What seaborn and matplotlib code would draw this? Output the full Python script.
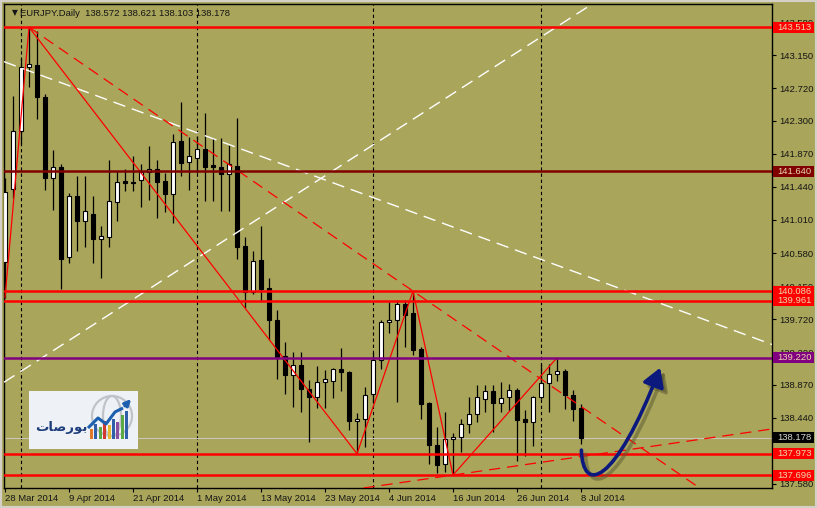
import numpy as np
import pandas as pd
import matplotlib
matplotlib.use("Agg")
import matplotlib.pyplot as plt
import matplotlib.transforms as mtransforms
from matplotlib.patches import Rectangle, Ellipse, FancyArrowPatch
from matplotlib.path import Path
import seaborn as sns

# EURJPY daily candles, 28 Mar 2014 .. 8 Jul 2014 (one bar per weekday)
dates = pd.bdate_range("2014-03-28", "2014-07-08")
opens = [140.46, 141.41, 142.16, 143.00, 143.02, 142.61, 141.55, 141.70, 140.53, 141.32,
         141.00, 141.09, 140.76, 140.79, 141.24, 141.51, 141.50, 141.53, 141.63, 141.67,
         141.51, 141.35, 142.03, 141.76, 141.82, 141.93, 141.72, 141.70, 141.60, 141.71,
         140.67, 140.08, 140.49, 140.13, 139.71, 139.24, 138.99, 139.13, 138.81, 138.71,
         138.90, 138.92, 139.07, 139.03, 138.40, 138.43, 138.75, 139.19, 139.68, 139.71,
         139.92, 139.80, 139.33, 138.63, 138.09, 137.84, 138.16, 138.19, 138.36, 138.49,
         138.69, 138.79, 138.63, 138.71, 138.80, 138.42, 138.38, 138.71, 138.89, 139.01,
         139.05, 138.74, 138.572]
highs = [141.55, 142.62, 143.11, 143.513, 143.46, 142.64, 141.92, 141.74, 141.36, 141.58,
         141.58, 141.32, 140.93, 141.79, 141.65, 141.67, 141.84, 141.74, 141.97, 141.79,
         141.62, 142.13, 142.54, 142.09, 142.10, 142.40, 142.07, 142.07, 141.98, 142.33,
         140.79, 140.61, 140.93, 140.26, 139.84, 139.43, 139.30, 139.30, 138.93, 139.11,
         139.06, 139.09, 139.34, 139.05, 138.50, 138.84, 139.30, 139.71, 139.94, 139.97,
         139.97, 140.086, 139.36, 138.65, 138.32, 138.52, 138.24, 138.42, 138.71, 138.87,
         138.87, 138.87, 138.90, 138.88, 138.83, 138.54, 138.72, 139.14, 139.14, 139.22,
         139.07, 138.80, 138.621]
lows = [140.00, 141.29, 141.99, 142.74, 142.32, 141.40, 141.14, 140.11, 140.45, 140.61,
        140.66, 140.45, 140.26, 140.66, 141.00, 141.39, 141.39, 141.18, 141.27, 141.03,
        141.11, 140.97, 141.58, 141.40, 141.62, 141.25, 141.26, 141.12, 141.12, 140.50,
        139.87, 140.05, 139.96, 139.45, 138.94, 138.75, 138.58, 138.52, 138.12, 138.57,
        138.57, 138.70, 138.79, 138.28, 137.973, 138.06, 138.63, 139.07, 139.54, 138.65,
        139.36, 139.25, 138.43, 137.84, 137.72, 137.73, 137.696, 137.99, 138.24, 138.38,
        138.52, 138.25, 138.52, 138.53, 137.88, 137.94, 138.07, 138.68, 138.51, 138.92,
        138.56, 138.40, 138.103]
closes = [141.37, 142.16, 143.00, 143.04, 142.60, 141.55, 141.70, 140.50, 141.32, 141.00,
          141.13, 140.76, 140.80, 141.26, 141.50, 141.49, 141.49, 141.63, 141.67, 141.50,
          141.35, 142.02, 141.75, 141.84, 141.93, 141.70, 141.70, 141.60, 141.73, 140.66,
          140.08, 140.48, 140.11, 139.71, 139.23, 138.99, 139.13, 138.81, 138.71, 138.90,
          138.94, 139.07, 139.03, 138.40, 138.43, 138.73, 139.19, 139.68, 139.71, 139.92,
          139.78, 139.32, 138.62, 138.08, 137.83, 138.16, 138.19, 138.36, 138.49, 138.71,
          138.79, 138.63, 138.70, 138.80, 138.41, 138.39, 138.71, 138.89, 139.01, 139.05,
          138.74, 138.55, 138.178]

date_labels = ["28 Mar 2014", "9 Apr 2014", "21 Apr 2014", "1 May 2014", "13 May 2014",
               "23 May 2014", "4 Jun 2014", "16 Jun 2014", "26 Jun 2014", "8 Jul 2014"]
price_ticks = [143.580, 143.150, 142.720, 142.300, 141.870, 141.440, 141.010, 140.580,
               140.150, 139.720, 139.290, 138.870, 138.440, 138.010, 137.580]

# horizontal levels drawn on the chart
level_prices = [143.513, 141.640, 140.086, 139.961, 139.220, 137.973, 137.696]
level_colors = ["#FF0000", "#800000", "#FF0000", "#FF0000", "#800080", "#FF0000", "#FF0000"]
bid = 138.178

# zigzag pivots (bar index, price)
zz_idx = [0, 3, 44, 51, 56, 69]
zz_px = [140.00, 143.513, 137.973, 140.086, 137.696, 139.220]

# trend lines: two anchor points each (bar index, price)
res_line = [(3, 143.513), (51, 140.086)]      # red dashed ray
sup_line = [(56, 137.696), (86.9, 138.16)]    # red dashed
white_down = [(0, 143.06), (63, 140.65)]
white_up = [(0, 138.91), (47, 142.05)]

# hand-drawn blue arrow (bar index, price) - cubic bezier
arrow_pts = [(72.05, 138.02), (72.2, 137.45), (76.2, 137.55), (81.9, 139.09)]

bg = "#A9A55B"
txt = "#141414"
fs = 6.8

sns.set_theme(style="white", rc={"axes.facecolor": bg, "figure.facecolor": bg,
                                 "axes.edgecolor": "black", "axes.linewidth": 1.0})
plt.rcParams["font.family"] = ["Liberation Sans", "DejaVu Sans"]

fig = plt.figure(figsize=(8.17, 5.08), dpi=100)
ax = fig.add_axes([4 / 817, 20 / 508, 768 / 817, 484 / 508])
ax.set_xlim(-0.125, 95.875)
ax.set_ylim(137.528, 143.814)

idx = np.arange(len(opens))
o = np.array(opens); h = np.array(highs); l = np.array(lows); c = np.array(closes)
up = c >= o

# month separators
months = dates.to_period("M")
seps = [i for i in range(1, len(dates)) if months[i] != months[i - 1]]
for s in seps:
    ax.axvline(s, color="black", lw=0.8, ls=(0, (3, 2.5)), zorder=1)

ax.axhline(bid, color="#C9C6B8", lw=0.8, zorder=2)

# candles
ax.vlines(idx, l, h, color="black", lw=0.9, zorder=3)
ax.bar(idx, np.maximum(np.abs(c - o), 0.014), bottom=np.minimum(o, c), width=0.62,
       color=np.where(up, "white", "black"), edgecolor="black", linewidth=0.8, zorder=4)

# white dashed trend lines
for ln in (white_down, white_up):
    ax.axline(ln[0], ln[1], color="white", lw=1.0, ls=(0, (9, 5)), zorder=5)

# red dashed lines
x_end = ax.get_xlim()[1]
(rx0, ry0), (rx1, ry1) = res_line
slope = (ry1 - ry0) / (rx1 - rx0)
ax.plot([rx0, x_end], [ry0, ry0 + slope * (x_end - rx0)], color="red", lw=0.9,
        ls=(0, (9, 5.5)), zorder=5)
ax.axline(sup_line[0], sup_line[1], color="red", lw=0.9, ls=(0, (9, 5.5)), zorder=5)

# zigzag
sns.lineplot(x=zz_idx, y=zz_px, ax=ax, color="red", lw=0.9, sort=False, zorder=6)

for p, col in zip(level_prices, level_colors):
    ax.axhline(p, color=col, lw=1.8, zorder=6)

# blue arrow + shadow
codes = [Path.MOVETO, Path.CURVE4, Path.CURVE4, Path.CURVE4]
shadow_tr = ax.transData + mtransforms.ScaledTranslation(3 / 72, -3 / 72, fig.dpi_scale_trans)
for tr, col, a in ((shadow_tr, "#5A5830", 0.5), (ax.transData, "#0C1A7E", 1.0)):
    arr = FancyArrowPatch(path=Path(arrow_pts, codes), arrowstyle="-|>,head_length=0.5,head_width=0.3",
                          mutation_scale=22, lw=2.6, color=col, alpha=a, zorder=8)
    arr.set_transform(tr)
    ax.add_patch(arr)

# axes / ticks
ax.yaxis.tick_right()
ax.set_yticks(price_ticks)
ax.set_yticklabels([f"{v:.3f}" for v in price_ticks])
tick_pos = [dates.get_loc(pd.Timestamp(d)) for d in date_labels]
ax.set_xticks(tick_pos)
ax.set_xticklabels(date_labels, ha="left")
ax.tick_params(axis="both", which="both", direction="out", length=3, width=0.8, colors="black",
               labelsize=fs, labelcolor=txt, pad=2)
ax.tick_params(axis="y", right=True, left=False)
ax.tick_params(axis="x", bottom=True, pad=1.5)
for sp in ax.spines.values():
    sp.set_color("black")
    sp.set_linewidth(1.0)
ax.set_xlabel("")
ax.set_ylabel("")

# price labels on the right scale
blend = mtransforms.blended_transform_factory(ax.transAxes, ax.transData)
box_h = 11 / 77
for p, col in list(zip(level_prices, level_colors)) + [(bid, "black")]:
    ax.add_patch(Rectangle((1 + 1 / 768, p - box_h / 2), 41 / 768, box_h, transform=blend,
                           facecolor=col, edgecolor="none", clip_on=False, zorder=10))
    ax.text(1 + 5 / 768, p, f"{p:.3f}", transform=blend, va="center", ha="left", fontsize=fs,
            color="#D8D8D0" if col == "black" else "#EBD7AE", clip_on=False, zorder=11)

# header
ax.text(8 / 768, 1 - 9 / 484, "\u25bc", transform=ax.transAxes, fontsize=5.5, va="center",
        ha="left", color=txt, family="DejaVu Sans")
ax.text(16 / 768, 1 - 9 / 484, "EURJPY.Daily  138.572 138.621 138.103 138.178",
        transform=ax.transAxes, fontsize=fs, va="center", ha="left", color=txt)

# logo box
def px(x, y):
    return ((x - 4) / 768, (488 - y) / 484)

ax.add_patch(Rectangle(px(29, 449), 109 / 768, 58 / 484, transform=ax.transAxes,
                       facecolor="#EEF2F7", edgecolor="none", zorder=12))
gx, gy = px(112, 416)
for w in (40, 18):
    ax.add_patch(Ellipse((gx, gy), w / 768, 40 / 484, transform=ax.transAxes, fill=False,
                         edgecolor="#BFC4CB", lw=1.6, zorder=13))
bar_cols = ["#E07A2A", "#2E5FA8", "#5BA845", "#D23A30", "#E8B830", "#2E5FA8", "#8A4FA0", "#5BA845", "#2E5FA8"]
bar_h = [10, 15, 12, 18, 14, 20, 17, 24, 28]
for k, (bc, bh) in enumerate(zip(bar_cols, bar_h)):
    bx, by = px(90 + k * 4.4, 439)
    ax.add_patch(Rectangle((bx, by), 3 / 768, bh / 484, transform=ax.transAxes,
                           facecolor=bc, edgecolor="none", zorder=14))
line_pts = [px(88, 428), px(98, 418), px(106, 424), px(115, 412), px(123, 408)]
ax.plot([q[0] for q in line_pts], [q[1] for q in line_pts], transform=ax.transAxes,
        color="#1C5FAF", lw=2.2, zorder=15, solid_capstyle="butt")
ax.annotate("", xy=px(133, 397), xytext=px(123, 408), xycoords=ax.transAxes,
            textcoords=ax.transAxes, zorder=15,
            arrowprops=dict(arrowstyle="-|>", color="#1C5FAF", lw=2.2, mutation_scale=9))
# Arabic name, shaped glyphs written in display order
ax.text(*px(61, 428), "\ufe95\ufe8e\ufebb\ufead\ufeee\ufe91", transform=ax.transAxes,
        fontsize=9.5, fontweight="bold", color="#1D3D7C", ha="center", va="center",
        family=["DejaVu Sans"], zorder=15)

# window border
fig.patches.append(Rectangle((0, 0), 1, 1, transform=fig.transFigure, fill=False,
                             edgecolor="#D4D0C8", lw=3, zorder=20))

fig.savefig("out.png", dpi=100, facecolor=bg)
